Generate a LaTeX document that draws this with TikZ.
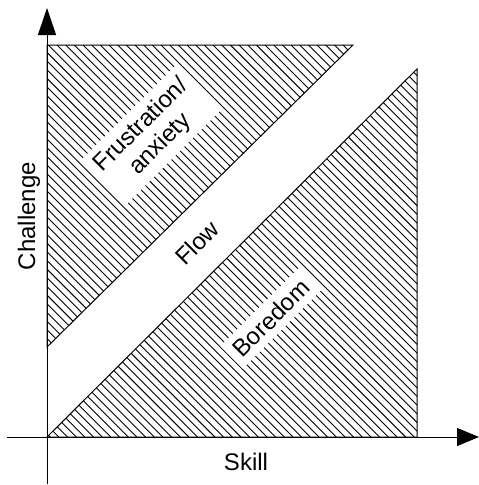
\documentclass[tikz,border=0pt]{standalone}
\usepackage{fontspec}
\setmainfont{Liberation Sans}
\usetikzlibrary{arrows.meta}
\begin{document}
\begin{tikzpicture}[x=1pt,y=-1pt,
  axis/.style={line width=1pt},
  region/.style={line width=1pt},
  hatch/.style={line width=0.9pt},
  lbl/.style={font=\fontsize{24}{27}\selectfont, inner sep=0pt},
  boxlbl/.style={font=\fontsize{24}{27}\selectfont, fill=white, inner sep=7pt, align=center}]
\useasboundingbox (0,0) rectangle (479,485);
% regions
\coordinate (ua) at (47,45);
\coordinate (ub) at (353,45);
\coordinate (uc) at (47,347);
\coordinate (la) at (47,437);
\coordinate (lb) at (417,437);
\coordinate (lc) at (417,69);
\begin{scope}
  \clip (ua) -- (ub) -- (uc) -- cycle;
  \foreach \i in {-60,...,60} \draw[hatch] ({3.3+8.67*\i},0) -- ++(485,485);
\end{scope}
\begin{scope}
  \clip (la) -- (lb) -- (lc) -- cycle;
  \foreach \i in {-60,...,60} \draw[hatch] ({3.3+8.67*\i},0) -- ++(485,485);
\end{scope}
\draw[region] (ua) -- (ub) -- (uc) -- cycle;
\draw[region] (la) -- (lb) -- (lc) -- cycle;
% axes
\coordinate (ybot) at (47,484);
\coordinate (ytop) at (47,8);
\coordinate (xleft) at (7,437);
\coordinate (xright) at (479,437);
\draw[axis,-{Triangle[length=27pt,width=18pt]}] (ybot) -- (ytop);
\draw[axis,-{Triangle[length=22pt,width=18pt]}] (xleft) -- (xright);
% labels
\node[boxlbl, rotate=45] (frus) at (151,135) {Frustration/\\anxiety};
\node[lbl, rotate=45] (flow) at (197,243) {Flow};
\node[boxlbl, rotate=45] (bore) at (271,318) {Boredom};
\node[lbl, rotate=90] (chal) at (29,216) {Challenge};
\node[lbl] (skill) at (246,462) {Skill};
\end{tikzpicture}
\end{document}
